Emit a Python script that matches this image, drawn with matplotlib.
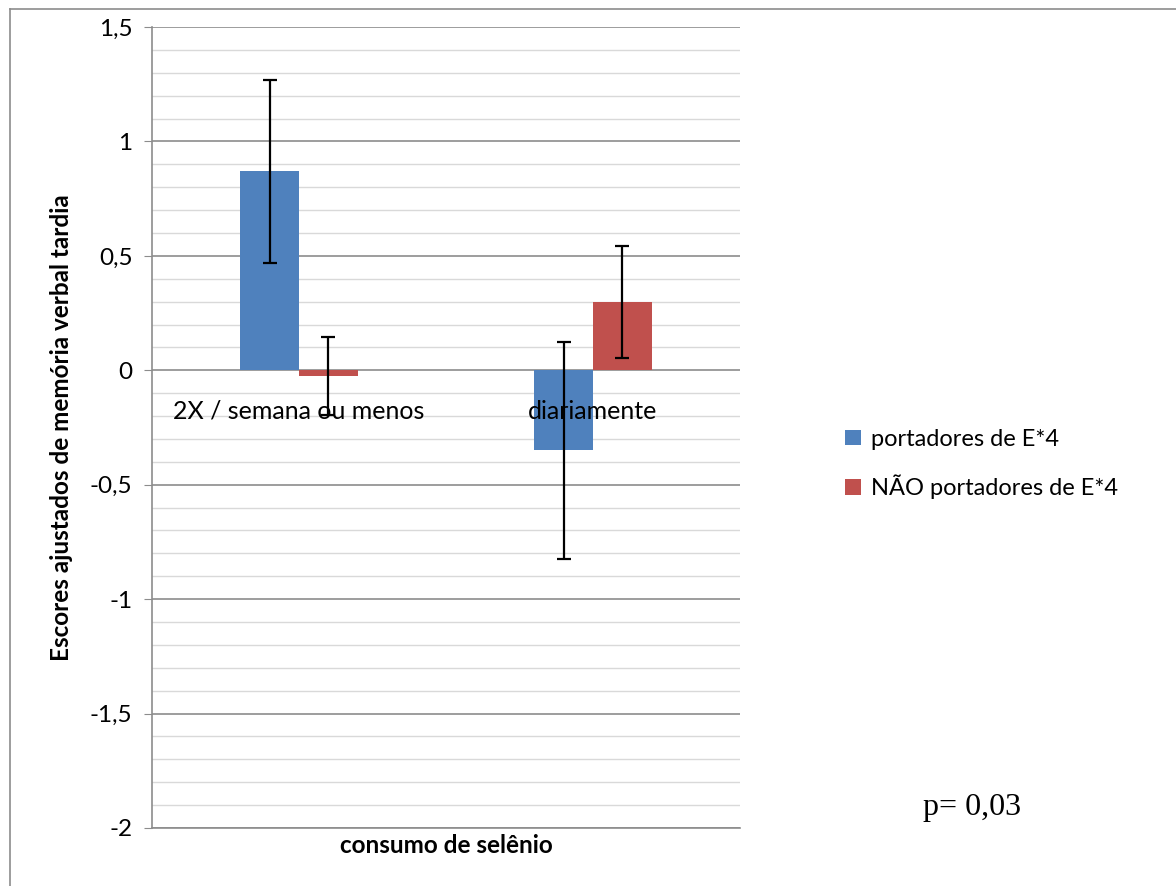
import numpy as np
import matplotlib
matplotlib.use('Agg')
import matplotlib.pyplot as plt
from matplotlib.lines import Line2D
from matplotlib.ticker import MultipleLocator, FuncFormatter

# Group means and error sizes per selenium intake category
categories = ['2X / semana ou menos', 'diariamente']
series_names = ['portadores de E*4', 'NÃO portadores de E*4']
portadores = [0.87, -0.35]
portadores_err = [0.40, 0.475]
nao_portadores = [-0.025, 0.30]
nao_portadores_err = [0.17, 0.245]

plt.rcParams['font.family'] = ['Lato', 'DejaVu Sans']

fig = plt.figure(figsize=(11.76, 8.86), dpi=100)
ax = fig.add_axes([152 / 1176, 1 - 828 / 886, 588 / 1176, 801 / 886])

x = np.arange(len(categories))
w = 0.2
ax.bar(x - w / 2, portadores, w, color='#4F81BD', label=series_names[0], zorder=3)
ax.bar(x + w / 2, nao_portadores, w, color='#C0504D', label=series_names[1], zorder=3)
ax.errorbar(x - w / 2, portadores, yerr=portadores_err, fmt='none', ecolor='black',
            elinewidth=1.6, capsize=5, capthick=1.6, zorder=4)
ax.errorbar(x + w / 2, nao_portadores, yerr=nao_portadores_err, fmt='none', ecolor='black',
            elinewidth=1.6, capsize=5, capthick=1.6, zorder=4)

ax.set_xlim(-0.5, 1.5)
ax.set_ylim(-2, 1.5)
ax.yaxis.set_major_locator(MultipleLocator(0.5))
ax.yaxis.set_minor_locator(MultipleLocator(0.1))
ax.yaxis.set_major_formatter(FuncFormatter(lambda v, p: ('%g' % v).replace('.', ',')))
ax.grid(axis='y', which='major', color='#8c8c8c', linewidth=1.2, zorder=1)
ax.grid(axis='y', which='minor', color='#d9d9d9', linewidth=1.0, zorder=1)
ax.tick_params(axis='y', which='major', length=6, color='#8c8c8c', labelsize=17.5, pad=8)
ax.tick_params(axis='y', which='minor', length=0)
ax.set_xticks([])
for s in ['top', 'right']:
    ax.spines[s].set_visible(False)
for s in ['left', 'bottom']:
    ax.spines[s].set_color('#8c8c8c')
    ax.spines[s].set_linewidth(1.2)

# category names sit just under the zero line
for xi, name in zip(x, categories):
    ax.text(xi, -0.18, name, ha='center', va='center', fontsize=18, zorder=5)

ax.set_ylabel('Escores ajustados de memória verbal tardia', fontsize=17.5,
              fontweight='bold', labelpad=12)
ax.set_xlabel('consumo de selênio', fontsize=17.5, fontweight='bold', labelpad=4)

fig.legend(loc='center left', bbox_to_anchor=(824 / 1176, 1 - 464 / 886), frameon=False,
           fontsize=17, handlelength=0.65, handleheight=0.65, handletextpad=0.45,
           labelspacing=1.05)

fig.text(972 / 1176, 1 - 808 / 886, 'p= 0,03', family='Liberation Serif', fontsize=23,
         ha='center', va='center')

# outer chart frame
fig.add_artist(Line2D([10 / 1176, 10 / 1176], [0, 1 - 9 / 886], transform=fig.transFigure,
                      color='#8c8c8c', linewidth=1.2))
fig.add_artist(Line2D([10 / 1176, 1], [1 - 9 / 886, 1 - 9 / 886], transform=fig.transFigure,
                      color='#8c8c8c', linewidth=1.2))

fig.savefig('out.png', dpi=100)
